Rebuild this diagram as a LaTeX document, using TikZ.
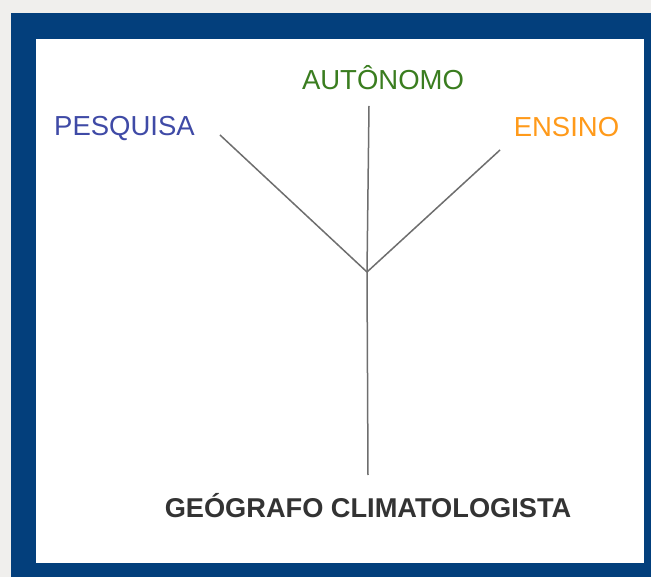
\documentclass[tikz,border=0pt]{standalone}
\usepackage{fontspec}
\setmainfont{Liberation Sans}
\definecolor{pagegray}{HTML}{F0EFED}
\definecolor{frameblue}{HTML}{033F7C}
\definecolor{pesqblue}{HTML}{3F4AA6}
\definecolor{autgreen}{HTML}{3A7D1F}
\definecolor{ensorange}{HTML}{FF9A1A}
\definecolor{rootgray}{HTML}{333333}
\definecolor{branchgray}{HTML}{6E6E6E}
\tikzset{
	branch/.style={draw=branchgray, line width=1.5pt},
	leaf/.style={anchor=base, inner sep=0pt, font=\fontsize{27.5}{30}\selectfont},
	root/.style={anchor=base, inner sep=0pt, font=\bfseries\fontsize{27.2}{30}\selectfont, text=rootgray}
}
\begin{document}
\begin{tikzpicture}[x=1pt, y=-1pt]
	% frame
	\fill[pagegray] (0,0) rectangle (651,577);
	\fill[frameblue] (11,13) rectangle (651,577);
	\fill[white] (36,39) rectangle (644,563);
	\useasboundingbox (0,0) rectangle (651,577);
	% labels
	\node[leaf, text=pesqblue] (pesquisa) at (124.5,136) {PESQUISA};
	\node[leaf, text=autgreen] (autonomo) at (383,90) {AUTÔNOMO};
	\node[leaf, text=ensorange] (ensino) at (566.5,137) {ENSINO};
	\node[root] (geografo) at (368,517) {GEÓGRAFO CLIMATOLOGISTA};
	% branches
	\coordinate (hub) at (367,272);
	\coordinate (pesqend) at (220,135);
	\coordinate (autend) at (369,106);
	\coordinate (ensend) at (500,150);
	\coordinate (rootend) at (368,475);
	\draw[branch] (pesqend) -- (hub);
	\draw[branch] (autend) -- (hub);
	\draw[branch] (ensend) -- (hub);
	\draw[branch] (hub) -- (rootend);
\end{tikzpicture}
\end{document}
